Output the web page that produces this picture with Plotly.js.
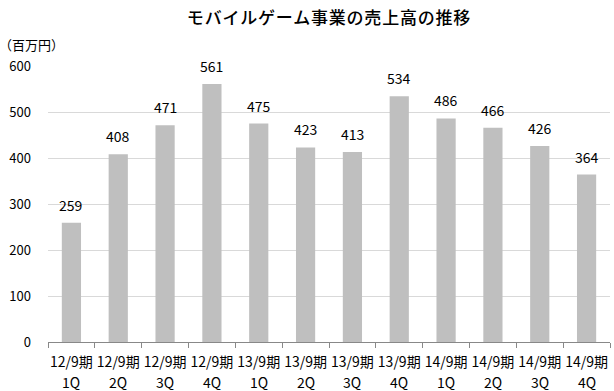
<!DOCTYPE html>
<html><head><meta charset="utf-8">
<script src="https://cdn.plot.ly/plotly-3.0.1.min.js"></script>
<style>html,body{margin:0;padding:0;background:#fff}#chart{width:614px;height:391px}
.gtitle{letter-spacing:0.8px}</style>
</head><body><div id="chart"></div>
<script>
const periods = ["12/9期","12/9期","12/9期","12/9期","13/9期","13/9期","13/9期","13/9期","14/9期","14/9期","14/9期","14/9期"];
const quarters = ["1Q","2Q","3Q","4Q","1Q","2Q","3Q","4Q","1Q","2Q","3Q","4Q"];
const sales = [259, 408, 471, 561, 475, 423, 413, 534, 486, 466, 426, 364];
const yTicks = [0, 100, 200, 300, 400, 500, 600];
const titleText = "モバイルゲーム事業の売上高の推移";
const unitText = "（百万円）";

const cats = periods.map((p, i) => p + " " + quarters[i]);
const font = "Noto Sans CJK JP";

const annotations = [{
  text: unitText, xref: "paper", yref: "paper", x: 0, y: 1,
  xanchor: "left", yanchor: "middle", xshift: -51, yshift: 22,
  showarrow: false, font: {family: font, size: 13, color: "#000"}
}];
cats.forEach((c, i) => {
  annotations.push({
    text: String(sales[i]), xref: "x", yref: "y", x: c, y: sales[i],
    xanchor: "center", yanchor: "middle", yshift: 18, showarrow: false,
    font: {family: font, size: 14, color: "#000"}
  });
  annotations.push({
    text: quarters[i], xref: "x", yref: "paper", x: c, y: 0,
    xanchor: "center", yanchor: "middle", yshift: -40, showarrow: false,
    font: {family: font, size: 14, color: "#000"}
  });
});

Plotly.newPlot("chart", [{
  type: "bar",
  x: cats,
  y: sales,
  marker: {color: "#bfbfbf"},
  hoverinfo: "none"
}], {
  width: 614, height: 391,
  margin: {l: 48, r: 4, t: 66, b: 49},
  paper_bgcolor: "#fff", plot_bgcolor: "#fff",
  bargap: 0.59,
  showlegend: false,
  title: {text: titleText, font: {family: font, size: 17, color: "#000", weight: 500}, x: 0.5, xref: "paper", xanchor: "center", y: 0.955, yanchor: "middle"},
  xaxis: {
    type: "category",
    tickvals: cats, ticktext: periods,
    tickangle: 0,
    showline: true, linecolor: "#888", linewidth: 1,
    ticks: "outside", tickson: "boundaries", ticklen: 5, tickcolor: "#888",
    ticklabelstandoff: 7,
    tickfont: {family: font, size: 14, color: "#000"},
    showgrid: false, fixedrange: true
  },
  yaxis: {
    range: [0, 600],
    tickvals: yTicks,
    showgrid: true, gridcolor: "#d9d9d9", gridwidth: 1,
    zeroline: false, showline: false,
    ticklabelstandoff: 16,
    tickfont: {family: font, size: 13, color: "#000"},
    fixedrange: true
  },
  annotations: annotations
}, {displayModeBar: false, staticPlot: true});
</script></body></html>
